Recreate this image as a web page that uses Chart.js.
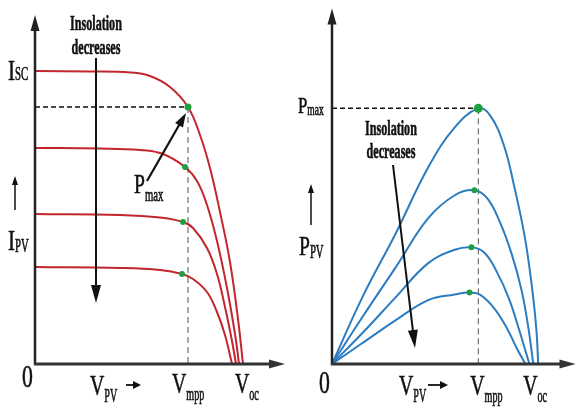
<!DOCTYPE html>
<html>
<head>
<meta charset="utf-8">
<script src="https://cdn.jsdelivr.net/npm/chart.js"></script>
<style>
  html, body { margin: 0; padding: 0; background: #fff; }
  #wrap { position: relative; width: 582px; height: 410px; }
  .panel { position: absolute; top: 0; width: 291px; height: 410px; }
</style>
</head>
<body>
<div id="wrap">
  <div class="panel" style="left:0"><canvas id="ivChart" width="291" height="410"></canvas></div>
  <div class="panel" style="left:291px"><canvas id="pvChart" width="291" height="410"></canvas></div>
</div>
<script>
// I-V curves, highest insolation first (voltage / current)
const ivV1 = [0, 11, 19, 23, 27, 30.6, 33, 35, 37, 39, 40.6, 41.6];
const ivI1 = [5.86, 5.85, 5.83, 5.76, 5.54, 5.14, 4.58, 3.92, 3.04, 2.04, 0.9, 0];
const ivV2 = [0, 13, 21, 25.6, 30, 32.4, 34.4, 36.4, 38.4, 40, 40.8];
const ivI2 = [4.32, 4.31, 4.28, 4.2, 3.94, 3.66, 3.18, 2.46, 1.52, 0.6, 0];
const ivV3 = [0, 17, 25, 29.6, 31.6, 34.4, 36.4, 38, 39.4, 40.2];
const ivI3 = [3.0, 2.98, 2.93, 2.84, 2.72, 2.32, 1.8, 1.14, 0.46, 0];
const ivV4 = [0, 17, 25, 29.4, 31.6, 34.4, 36.4, 38, 39.4];
const ivI4 = [1.94, 1.92, 1.88, 1.8, 1.7, 1.44, 1.04, 0.58, 0];
// maximum power points on the I-V curves
const ivMppV = [30.6, 30, 29.6, 29.4];
const ivMppI = [5.14, 3.94, 2.84, 1.8];

// P-V curves, same order (voltage / power)
const pvV1 = [0, 6.2, 13, 19.6, 25, 29.8, 32.2, 35, 37.2, 39.2, 40.6, 41.6, 42];
const pvP1 = [0, 16.75, 32.75, 49.25, 59.25, 64, 62.25, 54.75, 44, 32.25, 20.5, 9, 0];
const pvV2 = [0, 6.2, 13, 19.6, 25, 29, 31.6, 34.2, 36.6, 38.6, 40, 41];
const pvP2 = [0, 11.75, 24.25, 36.5, 42.25, 43.5, 41.5, 35.5, 27.5, 18.5, 9, 0];
const pvV3 = [0, 6.2, 13, 19.6, 25, 28.4, 31, 33.6, 36, 38, 40.2];
const pvP3 = [0, 7.75, 16.75, 25.25, 28.6, 29.2, 27.9, 23, 16.5, 9, 0];
const pvV4 = [0, 6.2, 13, 19.6, 25, 28, 30.2, 33, 35.6, 37.6, 39.4];
const pvP4 = [0, 5.25, 11, 16, 17.4, 17.9, 17.3, 14, 9, 4, 0];
const pvMppV = [29.8, 29, 28.4, 28];
const pvMppP = [64, 43.5, 29.2, 17.9];

const RED = '#c1272d';
const BLUE = '#2b7cc0';
const GREEN = '#1fa040';
const INK = '#111';
const FONT = '"Liberation Serif", "DejaVu Serif", serif';

const pts = (xs, ys) => xs.map((v, i) => ({ x: v, y: ys[i] }));

function curve(xs, ys, color) {
    return { data: pts(xs, ys), showLine: true, borderColor: color, borderWidth: 2,
             pointRadius: 0, tension: 0.4, order: 1 };
}

function guides(vm, ym) {
    return [
        { data: [{ x: 0, y: ym }, { x: vm, y: ym }], showLine: true, borderColor: INK,
          borderWidth: 1.5, borderDash: [5, 3], pointRadius: 0, order: 2 },
        { data: [{ x: vm, y: ym }, { x: vm, y: 0 }], showLine: true, borderColor: '#555',
          borderWidth: 1, borderDash: [6, 4], pointRadius: 0, order: 2 }
    ];
}

// text squeezed horizontally, baseline at (x, y); a thin outline thickens the glyphs
function text(ctx, str, x, y, size, sx, weight, align) {
    ctx.save();
    ctx.font = (weight || 'normal') + ' ' + size + 'px ' + FONT;
    ctx.fillStyle = INK;
    ctx.strokeStyle = INK;
    ctx.lineWidth = 0.6;
    ctx.textBaseline = 'alphabetic';
    ctx.textAlign = align || 'left';
    ctx.translate(x, y);
    ctx.scale(sx, 1);
    ctx.fillText(str, 0, 0);
    ctx.strokeText(str, 0, 0);
    ctx.restore();
}

function subText(ctx, main, sub, x, y, size, subSize, drop, sx) {
    ctx.save();
    ctx.font = size + 'px ' + FONT;
    const w = ctx.measureText(main).width * sx;
    ctx.restore();
    text(ctx, main, x, y, size, sx);
    text(ctx, sub, x + w, y + drop, subSize, sx * 0.85);
}

function arrow(ctx, x1, y1, x2, y2, lw, hl, hw, color) {
    const a = Math.atan2(y2 - y1, x2 - x1);
    ctx.save();
    ctx.strokeStyle = color; ctx.fillStyle = color; ctx.lineWidth = lw;
    ctx.beginPath();
    ctx.moveTo(x1, y1);
    ctx.lineTo(x2 - Math.cos(a) * hl * 0.8, y2 - Math.sin(a) * hl * 0.8);
    ctx.stroke();
    ctx.translate(x2, y2);
    ctx.rotate(a);
    ctx.beginPath();
    ctx.moveTo(0, 0);
    ctx.lineTo(-hl, hw / 2);
    ctx.lineTo(-hl, -hw / 2);
    ctx.closePath();
    ctx.fill();
    ctx.restore();
}

function axes(chart, xEnd, yEnd) {
    const { ctx, scales: { x, y } } = chart;
    const x0 = x.getPixelForValue(0), y0 = y.getPixelForValue(0);
    arrow(ctx, x0, y0 + 1, x0, yEnd, 2.5, 16, 9, '#222');
    arrow(ctx, x0 - 1, y0, xEnd, y0, 3, 16, 9, '#333');
}

const ivDecor = {
    id: 'ivDecor',
    afterDatasetsDraw(chart) {
        const { ctx, chartArea, scales: { x, y } } = chart;
        axes(chart, chartArea.right, chartArea.top + 1);
        const vm = x.getPixelForValue(ivMppV[0]);
        text(ctx, 'Insolation', 96, 30, 22, 0.55, 'bold', 'center');
        text(ctx, 'decreases', 96, 54, 22, 0.55, 'bold', 'center');
        arrow(ctx, 96, 58, 96, 303, 2, 18, 10, INK);
        subText(ctx, 'I', 'SC', 8, y.getPixelForValue(ivI1[0]) + 9, 30, 18, 0, 0.7);
        arrow(ctx, 15, 210, 15, 176, 1.5, 9, 6, INK);
        subText(ctx, 'I', 'PV', 8, 250, 30, 18, 2, 0.7);
        subText(ctx, 'P', 'max', 134, 193, 28, 18, 8, 0.7);
        arrow(ctx, 147, 181, vm - 2, y.getPixelForValue(ivMppI[0]) + 6, 2.2, 14, 9, INK);
        text(ctx, '0', 22, 387, 32, 0.68);
        subText(ctx, 'V', 'PV', 90, 395, 30, 18, 7, 0.66);
        arrow(ctx, 126, 385, 141, 385, 1.8, 8, 8, INK);
        subText(ctx, 'V', 'mpp', vm - 16, 393, 30, 18, 7, 0.66);
        subText(ctx, 'V', 'oc', x.getPixelForValue(ivV1[ivV1.length - 1]) - 8, 393, 30, 18, 7, 0.66);
    }
};

const pvDecor = {
    id: 'pvDecor',
    afterDatasetsDraw(chart) {
        const { ctx, chartArea, scales: { x, y } } = chart;
        axes(chart, chartArea.right - 2, chartArea.top + 4);
        const vm = x.getPixelForValue(pvMppV[0]);
        subText(ctx, 'P', 'max', 7, y.getPixelForValue(pvMppP[0]) + 5, 24, 16, 2, 0.7);
        text(ctx, 'Insolation', 100, 135, 22, 0.55, 'bold', 'center');
        text(ctx, 'decreases', 100, 158, 22, 0.55, 'bold', 'center');
        arrow(ctx, 102, 165, 124, 348, 2, 18, 10, INK);
        arrow(ctx, 20, 225, 20, 184, 1.5, 9, 6, INK);
        subText(ctx, 'P', 'PV', 8, 255, 28, 18, 3, 0.7);
        text(ctx, '0', 28, 393, 32, 0.68);
        subText(ctx, 'V', 'PV', 108, 395, 30, 18, 7, 0.66);
        arrow(ctx, 137, 385, 157, 385, 1.8, 8, 8, INK);
        subText(ctx, 'V', 'mpp', vm - 8, 395, 30, 18, 7, 0.66);
        subText(ctx, 'V', 'oc', x.getPixelForValue(pvV1[pvV1.length - 1]) - 15, 395, 30, 18, 7, 0.66);
    }
};

function baseOptions(pad, yMax) {
    return {
        responsive: false,
        animation: false,
        layout: { padding: pad },
        plugins: { legend: { display: false }, tooltip: { enabled: false } },
        scales: {
            x: { type: 'linear', min: 0, max: 50, display: false },
            y: { type: 'linear', min: 0, max: yMax, display: false }
        }
    };
}

new Chart(document.getElementById('ivChart'), {
    type: 'scatter',
    data: {
        datasets: [
            { data: pts(ivMppV, ivMppI), backgroundColor: GREEN, borderWidth: 0,
              pointRadius: [3.5, 3, 3, 3], order: 0 },
            curve(ivV1, ivI1, RED),
            curve(ivV2, ivI2, RED),
            curve(ivV3, ivI3, RED),
            curve(ivV4, ivI4, RED),
            ...guides(ivMppV[0], ivMppI[0])
        ]
    },
    options: baseOptions({ left: 35, right: 6, top: 14, bottom: 46 }, 7),
    plugins: [ivDecor]
});

new Chart(document.getElementById('pvChart'), {
    type: 'scatter',
    data: {
        datasets: [
            { data: pts(pvMppV, pvMppP), backgroundColor: GREEN, borderWidth: 0,
              pointRadius: [4.5, 3, 3, 3], order: 0 },
            curve(pvV1, pvP1, BLUE),
            curve(pvV2, pvP2, BLUE),
            curve(pvV3, pvP3, BLUE),
            curve(pvV4, pvP4, BLUE),
            ...guides(pvMppV[0], pvMppP[0])
        ]
    },
    options: baseOptions({ left: 41, right: 0, top: 4, bottom: 46 }, 90),
    plugins: [pvDecor]
});
</script>
</body>
</html>
